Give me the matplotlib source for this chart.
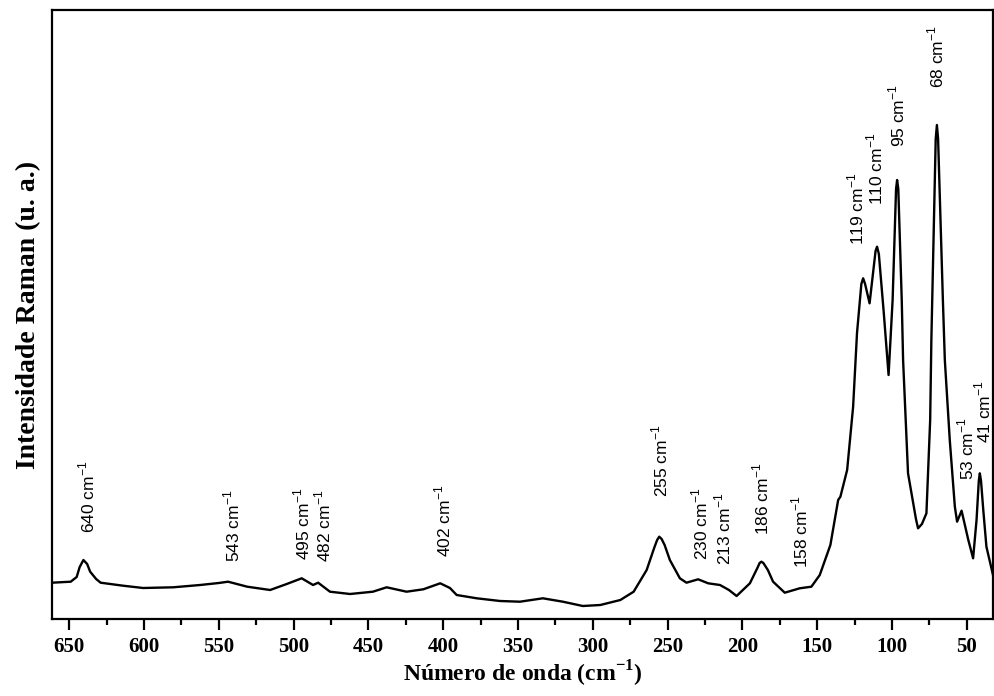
import matplotlib
matplotlib.use("Agg")
import matplotlib.pyplot as plt

# Raman spectrum (wavenumber in cm^-1, intensity in arbitrary units)
wavenumber = [661.5, 649, 645, 643, 640.5, 638, 636, 632, 629, 614, 600.6, 580.5, 562.5, 550, 543.8,
              531, 515.7, 504.6, 494.6, 487, 483.6, 475.7, 462.3, 447, 437.8, 424.5,
              413.3, 402, 395.5, 391, 377.6, 362, 348.7, 333.4, 320, 306.7, 295, 281.6,
              272.7, 264, 259, 257, 255.6, 254, 252, 248.5, 241.8, 237.4, 229.6, 222.9, 215, 209,
              203.9, 195, 190, 188.5, 187.3, 186, 183, 179.5, 171.7, 161.7, 153.9, 148.3, 141.2, 136,
              134.5, 130, 126, 123.4, 120.5, 119.3, 118, 115, 111, 110, 108.8, 105.5, 102.3, 99.6,
              97.3, 96.6, 95.8, 93.5, 92.6, 89.3, 84, 82.6, 80, 77, 74.5, 73.7, 70.8, 70, 69.2, 66,
              64.7, 61.4, 58, 56.5, 53.5, 49, 45.8, 43.5, 42, 41.3, 40.5, 39, 36.9, 32.5]
intensity = [36.3, 37.3, 42, 52, 59, 55, 47.3, 40, 36.3, 33.3, 31, 31.7, 34, 36, 37.3,
             32.3, 29, 35, 40.7, 34, 36.3, 27.3, 25, 27.3, 31.7, 27.3,
             29.7, 35.7, 31, 24, 20.7, 18, 17.3, 20.7, 17.3, 13, 14, 19,
             27.3, 49, 71, 79, 82.3, 80, 74, 59, 40.7, 36.3, 39.7, 35.7, 34, 29,
             23, 35.7, 51, 56, 57.3, 56, 49, 37.3, 26.3, 30.7, 32.3, 44, 74, 119,
             122.3, 149, 212.3, 286, 335, 340.7, 335, 315.7, 368, 372.3, 365, 306, 244, 319,
             430, 439, 430, 319, 259, 145.7, 100, 90.7, 95, 105.7, 199, 279, 480, 494, 480, 319,
             259, 179, 112.3, 97.3, 108.3, 79, 60.7, 99, 138, 145.7, 138, 109, 72.3, 44]

# Peak labels
peak_labels = ["640", "543", "495", "482", "402", "255", "230", "213", "186", "158",
               "119", "110", "95", "68", "53", "41"]
# label placement (x in cm^-1, bottom of text in intensity units)
label_x = [638, 541.3, 494.6, 480, 400, 255.2, 228.5, 213, 187.3, 161.7,
           123.8, 111.6, 96.7, 70.2, 50.4, 39.3]
label_y = [86, 57.3, 59, 57.3, 62.3, 122, 59, 54, 84, 50.7,
           374, 414, 472.3, 531, 139, 175.7]

xticks = [650, 600, 550, 500, 450, 400, 350, 300, 250, 200, 150, 100, 50]

fig = plt.figure(figsize=(9.94, 6.96), dpi=100)
ax = fig.add_axes([52 / 994, 1 - 619 / 696, (993 - 52) / 994, (619 - 10) / 696])

ax.plot(wavenumber, intensity, color="black", lw=1.7)

ax.set_xlim(661.5, 32.5)
ax.set_ylim(0, 609)
ax.set_xticks(xticks)
ax.set_xticks([625, 575, 525, 475, 425, 375, 325, 275, 225, 175, 125, 75], minor=True)
ax.set_yticks([])

serif_bold = dict(family=["Liberation Serif", "DejaVu Serif"], weight="bold")
ax.set_xticklabels([str(t) for t in xticks], fontsize=15, **serif_bold)
ax.tick_params(axis="x", which="major", direction="out", length=8, width=1.6, pad=5)
ax.tick_params(axis="x", which="minor", direction="out", length=4.5, width=1.6)

for sp in ax.spines.values():
    sp.set_linewidth(1.6)

ax.set_xlabel("Número de onda (cm$^{\\mathregular{-1}}$)", fontsize=17, labelpad=1, **serif_bold)
ax.set_ylabel("Intensidade Raman (u. a.)", fontsize=20, labelpad=8, **serif_bold)

for txt, lx, ly in zip(peak_labels, label_x, label_y):
    ax.text(lx, ly, txt + " cm$^{\\mathregular{-1}}$", rotation=90, ha="center", va="bottom",
            fontsize=12.5, family=["Liberation Sans", "DejaVu Sans"])

fig.savefig("out.png", dpi=100)
